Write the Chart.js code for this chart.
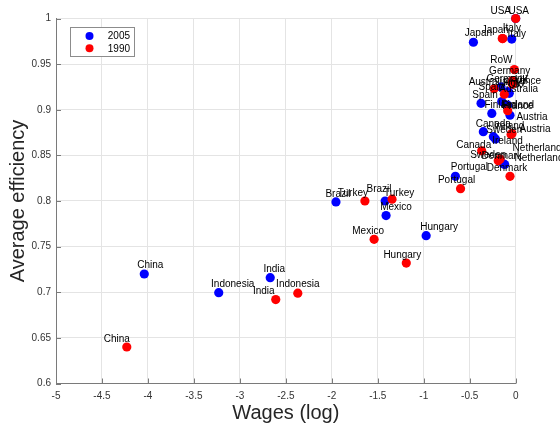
<!DOCTYPE html>
<html>
<head>
<meta charset="utf-8">
<script src="https://cdn.jsdelivr.net/npm/chart.js@4.4.1/dist/chart.umd.min.js"></script>
<style>
  html, body { margin: 0; padding: 0; background: #fff; }
  #wrap { width: 560px; height: 425px; }
</style>
</head>
<body>
<div id="wrap"><canvas id="c" width="560" height="425"></canvas></div>
<script>
// Countries, in the same order for both years
const countries = ['USA', 'Japan', 'Italy', 'RoW', 'Germany', 'France', 'UK', 'Australia',
  'Spain', 'Finland', 'Austria', 'Canada', 'Sweden', 'Ireland', 'Netherland', 'Denmark',
  'Portugal', 'Brazil', 'Turkey', 'Mexico', 'Hungary', 'China', 'India', 'Indonesia'];

// 2005: log wage and average efficiency
const wage2005 = [0, -0.46, -0.043, -0.08, -0.16, -0.087, -0.07, -0.152,
  -0.377, -0.26, -0.062, -0.352, -0.243, -0.22, -0.138, -0.12,
  -0.656, -1.955, -1.42, -1.41, -0.974, -4.04, -2.67, -3.23];
const eff2005 = [1.0, 0.974, 0.9775, 0.920, 0.925, 0.905, 0.918, 0.909,
  0.907, 0.896, 0.894, 0.876, 0.8705, 0.868, 0.841, 0.840,
  0.827, 0.799, 0.800, 0.784, 0.762, 0.720, 0.716, 0.6995];

// 1990: log wage and average efficiency
const wage1990 = [0, -0.146, -0.14, -0.015, -0.033, -0.035, -0.04, -0.235,
  -0.124, -0.087, -0.04, -0.37, -0.19, -0.05, -0.17, -0.062,
  -0.60, -1.345, -1.64, -1.54, -1.19, -4.23, -2.61, -2.37];
const eff1990 = [1.0, 0.978, 0.978, 0.944, 0.932, 0.928, 0.930, 0.923,
  0.917, 0.899, 0.874, 0.855, 0.844, 0.873, 0.846, 0.827,
  0.8135, 0.802, 0.800, 0.758, 0.732, 0.640, 0.692, 0.699];

const seriesNames = ['2005', '1990'];

// Axis ticks
const xTickValues = [-5, -4.5, -4, -3.5, -3, -2.5, -2, -1.5, -1, -0.5, 0];
const xTickLabels = ['-5', '-4.5', '-4', '-3.5', '-3', '-2.5', '-2', '-1.5', '-1', '-0.5', '0'];
const yTickValues = [0.6, 0.65, 0.7, 0.75, 0.8, 0.85, 0.9, 0.95, 1];
const yTickLabels = ['0.6', '0.65', '0.7', '0.75', '0.8', '0.85', '0.9', '0.95', '1'];

// Pixel nudges for the country name next to each marker [dx, dy]
const nameShift2005 = {
  USA: [-15, -7], Japan: [5, -9], Italy: [5, -5], France: [10, 1], Australia: [17, -12],
  Spain: [4, -8], Finland: [9, -8], Austria: [22, 2], Canada: [10, -7], Sweden: [11, -6],
  Ireland: [12, 2], Netherland: [36, -5], Denmark: [-3, -8], Portugal: [14, -9],
  Brazil: [2, -8], Turkey: [14, -8], Mexico: [10, -8], Hungary: [13, -8],
  China: [6, -9], India: [4, -8], Indonesia: [14, -8]
};
const nameShift1990 = {
  USA: [3, -7], Japan: [-7, -8], Italy: [9, -10], RoW: [-13, -9], Germany: [-3, -9],
  France: [13, -3], UK: [10, -2], Australia: [-6, -7], Spain: [-13, -7], Finland: [10, -5],
  Austria: [23, -4], Canada: [-8, -6], Sweden: [-10, -6], Ireland: [-2, -8],
  Netherland: [37, -11], Denmark: [-3, -8], Portugal: [-4, -8], Brazil: [-13, -10],
  Turkey: [-12, -8], Mexico: [-6, -8], Hungary: [-4, -8], China: [-10, -8],
  India: [-12, -8], Indonesia: [0, -9]
};

const FONT = '"Liberation Sans", Arial, Helvetica, sans-serif';
const BLUE = '#0000ff';
const RED = '#ff0000';
const AXIS = '#7a7a7a';

Chart.defaults.font.family = FONT;

// Inward tick marks along the bottom and left axes
const innerTicks = {
  id: 'innerTicks',
  afterDatasetsDraw(chart) {
    const { ctx, chartArea: a, scales: { x, y } } = chart;
    ctx.save();
    ctx.strokeStyle = AXIS;
    ctx.lineWidth = 1;
    ctx.beginPath();
    xTickValues.forEach(v => {
      const px = Math.round(x.getPixelForValue(v)) + 0.5;
      ctx.moveTo(px, a.bottom);
      ctx.lineTo(px, a.bottom - 5);
    });
    yTickValues.forEach(v => {
      const py = Math.round(y.getPixelForValue(v)) + 0.5;
      ctx.moveTo(a.left, py);
      ctx.lineTo(a.left + 5, py);
    });
    ctx.stroke();
    ctx.restore();
  }
};

// Country names beside the markers
const countryNames = {
  id: 'countryNames',
  afterDatasetsDraw(chart) {
    const ctx = chart.ctx;
    ctx.save();
    ctx.font = '10px ' + FONT;
    ctx.fillStyle = '#000';
    ctx.textAlign = 'center';
    ctx.textBaseline = 'middle';
    [nameShift2005, nameShift1990].forEach((shift, d) => {
      const meta = chart.getDatasetMeta(d);
      meta.data.forEach((pt, i) => {
        const name = countries[i];
        const off = shift[name] || (d === 0 ? [6, -8] : [-6, -8]);
        ctx.fillText(name, pt.x + off[0], pt.y + off[1]);
      });
    });
    ctx.restore();
  }
};

// Boxed legend inside the plot, top-left
const boxLegend = {
  id: 'boxLegend',
  afterDraw(chart) {
    const ctx = chart.ctx;
    const a = chart.chartArea;
    const bx = a.left + 14.5, by = a.top + 9, bw = 64, bh = 29;
    ctx.save();
    ctx.fillStyle = '#fff';
    ctx.fillRect(bx, by, bw, bh);
    ctx.strokeStyle = '#8c8c8c';
    ctx.lineWidth = 1;
    ctx.strokeRect(bx, by, bw, bh);
    ctx.font = '10px ' + FONT;
    ctx.textAlign = 'right';
    ctx.textBaseline = 'middle';
    chart.data.datasets.forEach((ds, i) => {
      const cy = by + 8.5 + i * 12.3;
      ctx.fillStyle = ds.backgroundColor;
      ctx.beginPath();
      ctx.arc(bx + 19, cy, 4, 0, Math.PI * 2);
      ctx.fill();
      ctx.fillStyle = '#000';
      ctx.fillText(ds.label, bx + bw - 4.5, cy + 0.5);
    });
    ctx.restore();
  }
};

const toPoints = (xs, ys) => xs.map((v, i) => ({ x: v, y: ys[i] }));

new Chart(document.getElementById('c'), {
  type: 'scatter',
  data: {
    datasets: [
      {
        label: seriesNames[0],
        data: toPoints(wage2005, eff2005),
        backgroundColor: BLUE, borderColor: BLUE,
        pointRadius: 4.6, borderWidth: 0, clip: false, order: 2
      },
      {
        label: seriesNames[1],
        data: toPoints(wage1990, eff1990),
        backgroundColor: RED, borderColor: RED,
        pointRadius: 4.6, borderWidth: 0, clip: false, order: 1
      }
    ]
  },
  options: {
    responsive: false,
    devicePixelRatio: 1,
    animation: false,
    layout: { padding: { top: 18.5, right: 44.3, bottom: 0, left: 0 } },
    plugins: { legend: { display: false }, tooltip: { enabled: false } },
    scales: {
      x: {
        type: 'linear', min: -5, max: 0,
        afterBuildTicks: s => { s.ticks = xTickValues.map(v => ({ value: v })); },
        afterFit: s => { s.height = 41.5; },
        grid: { color: '#e4e4e4', drawTicks: false },
        border: { color: AXIS },
        ticks: {
          padding: 7, color: '#333', font: { size: 10 }, maxRotation: 0, autoSkip: false,
          callback: (v, i) => xTickLabels[i]
        },
        title: {
          display: true, text: 'Wages (log)', color: '#262626',
          font: { size: 20 }, padding: { top: 0, bottom: 0 }
        }
      },
      y: {
        type: 'linear', min: 0.6, max: 1,
        afterBuildTicks: s => { s.ticks = yTickValues.map(v => ({ value: v })); },
        afterFit: s => { s.width = 56; },
        grid: { color: '#e4e4e4', drawTicks: false },
        border: { color: AXIS },
        ticks: {
          padding: 5, color: '#333', font: { size: 10 }, autoSkip: false,
          callback: (v, i) => yTickLabels[i]
        },
        title: {
          display: true, text: 'Average efficiency', color: '#262626',
          font: { size: 20 }, padding: { top: 6, bottom: 0 }
        }
      }
    }
  },
  plugins: [innerTicks, countryNames, boxLegend]
});
</script>
</body>
</html>
